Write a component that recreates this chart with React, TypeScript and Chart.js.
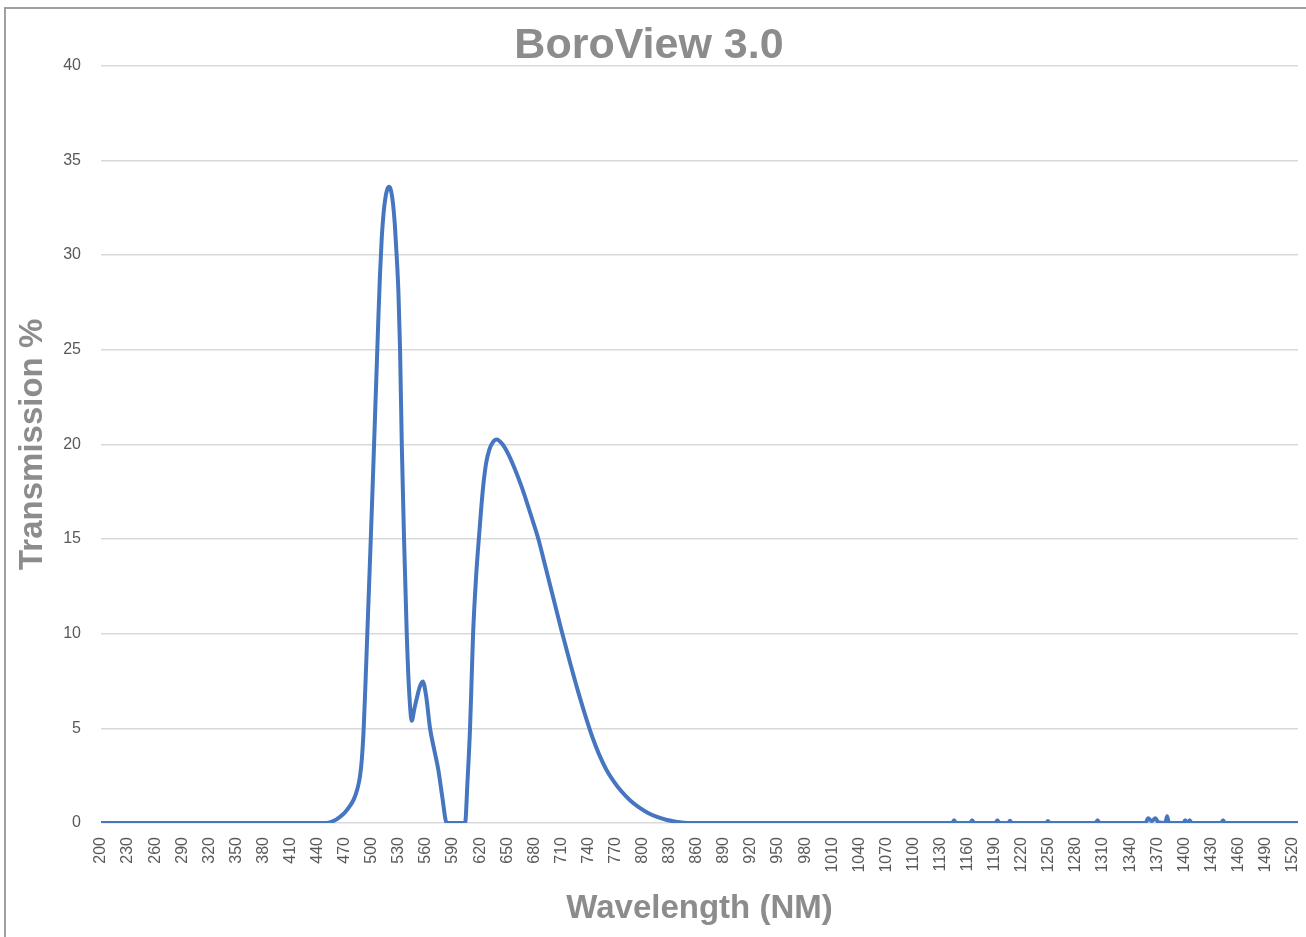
import React, { useEffect, useRef } from "react";
import { Chart, registerables } from "chart.js";

Chart.register(...registerables);

const CHART_TITLE = "BoroView 3.0";
const X_TITLE = "Wavelength (NM)";
const Y_TITLE = "Transmission %";

const X_MIN = 200;
const X_MAX = 1526;
const X_TICKS = [
  200, 230, 260, 290, 320, 350, 380, 410, 440, 470, 500, 530, 560, 590, 620,
  650, 680, 710, 740, 770, 800, 830, 860, 890, 920, 950, 980, 1010, 1040, 1070,
  1100, 1130, 1160, 1190, 1220, 1250, 1280, 1310, 1340, 1370, 1400, 1430, 1460,
  1490, 1520,
];
const Y_MIN = 0;
const Y_MAX = 40;
const Y_STEP = 5;

const WAVELENGTH = [
  200, 450, 458, 464, 470, 475, 480, 484, 487, 489, 491, 493, 495, 497, 499,
  501, 503, 505, 507, 509, 511, 513, 515, 517, 519.4, 521.5, 523.5, 525.5,
  527.5, 529.5, 531.3, 533.2, 535.7, 538.7, 541.3, 544.3, 547, 549.9, 553.2,
  556.5, 560.2, 564.5, 569, 573.7, 578, 583, 603.3, 606, 608.8, 610.5, 612.2,
  615.5, 619.2, 623, 626.6, 630, 634, 638, 642, 647, 652, 658, 666, 672, 678,
  684.5, 692, 701, 710, 720, 730, 738, 745, 752, 760, 768, 776, 786, 796, 806,
  816, 826, 838, 850, 1143, 1145, 1147, 1163, 1165, 1167, 1191, 1193, 1195,
  1205, 1207, 1209, 1247, 1249, 1251, 1302, 1304, 1306, 1357, 1360, 1364, 1368,
  1371, 1379, 1381, 1383, 1399, 1401, 1403, 1404, 1406, 1408, 1441, 1443, 1445,
  1526,
];

const TRANSMISSION = [
  0, 0, 0.12, 0.3, 0.55, 0.85, 1.25, 1.8, 2.5, 3.4, 5.0, 7.4, 10.0, 12.6, 15.2,
  17.9, 20.7, 23.5, 26.3, 28.9, 30.9, 32.2, 33.0, 33.45, 33.6, 33.35, 32.7, 31.6,
  30.0, 28.0, 25.0, 20.0, 15.0, 10.0, 7.0, 5.4, 6.0, 6.6, 7.2, 7.47, 6.7, 5.0,
  3.9, 2.8, 1.4, 0, 0, 2.2, 5, 7.5, 10, 13, 15.4, 17.6, 19.0, 19.7, 20.1, 20.25,
  20.15, 19.85, 19.4, 18.75, 17.75, 16.9, 16.0, 15.0, 13.6, 11.9, 10.2, 8.4, 6.7,
  5.45, 4.45, 3.6, 2.8, 2.2, 1.7, 1.2, 0.82, 0.53, 0.32, 0.17, 0.06, 0, 0, 0.15,
  0, 0, 0.15, 0, 0, 0.15, 0, 0, 0.12, 0, 0, 0.1, 0, 0, 0.15, 0, 0, 0.25, 0.1,
  0.25, 0.05, 0, 0.35, 0, 0, 0.15, 0, 0, 0.15, 0, 0, 0.15, 0, 0,
];

const FONT = "'Liberation Sans', Arial, sans-serif";

export default function App() {
  const canvasRef = useRef<HTMLCanvasElement | null>(null);

  useEffect(() => {
    document.body.style.margin = "0";
    const canvas = canvasRef.current;
    if (!canvas) return;
    const points = WAVELENGTH.map((w, i) => ({ x: w, y: TRANSMISSION[i] }));
    const chart = new Chart(canvas, {
      type: "line",
      data: {
        datasets: [
          {
            label: "Transmission",
            data: points,
            borderColor: "#4676bf",
            borderWidth: 4,
            pointRadius: 0,
            fill: false,
            cubicInterpolationMode: "monotone",
          },
        ],
      },
      options: {
        animation: false,
        responsive: false,
        layout: { padding: { left: 0, right: 8, top: 0, bottom: 0 } },
        plugins: {
          legend: { display: false },
          tooltip: { enabled: false },
          title: {
            display: true,
            text: CHART_TITLE,
            color: "#8c8c8c",
            font: { family: FONT, size: 43, weight: "bold", lineHeight: 0.9 },
            padding: { top: 27, bottom: 0 },
          },
        },
        scales: {
          x: {
            type: "linear",
            min: X_MIN,
            max: X_MAX,
            afterBuildTicks: (scale: any) => {
              scale.ticks = X_TICKS.map((v) => ({ value: v }));
            },
            afterFit: (scale: any) => {
              scale.height = 114;
              scale.paddingLeft = 0;
              scale.paddingRight = 0;
            },
            grid: { display: false, drawTicks: false },
            border: { display: false },
            ticks: {
              autoSkip: false,
              minRotation: 90,
              maxRotation: 90,
              padding: 14,
              color: "#595959",
              font: { family: FONT, size: 16 },
              callback: (v: any) => String(v),
            },
            title: {
              display: true,
              text: X_TITLE,
              color: "#8c8c8c",
              font: { family: FONT, size: 33, weight: "bold", lineHeight: 1.2 },
              padding: { top: 0, bottom: 8 },
            },
          },
          y: {
            min: Y_MIN,
            max: Y_MAX,
            afterFit: (scale: any) => {
              scale.width = 101;
            },
            grid: { color: "#d9d9d9", lineWidth: 1.5, drawTicks: false },
            border: { display: false },
            ticks: {
              stepSize: Y_STEP,
              padding: 20,
              color: "#595959",
              font: { family: FONT, size: 16 },
            },
            title: {
              display: true,
              text: Y_TITLE,
              color: "#8c8c8c",
              font: { family: FONT, size: 33, weight: "bold", lineHeight: 1.2 },
              padding: { top: 13, bottom: 0 },
            },
          },
        },
      },
    });
    return () => chart.destroy();
  }, []);

  return (
    <div style={{ position: "relative", width: 1306, height: 937, background: "#fff" }}>
      <div
        style={{
          position: "absolute",
          left: 4,
          top: 7,
          right: 0,
          bottom: 0,
          borderLeft: "2px solid #a0a0a0",
          borderTop: "2px solid #a0a0a0",
        }}
      />
      <canvas
        ref={canvasRef}
        width={1306}
        height={937}
        style={{ position: "absolute", left: 0, top: 0 }}
      />
    </div>
  );
}
